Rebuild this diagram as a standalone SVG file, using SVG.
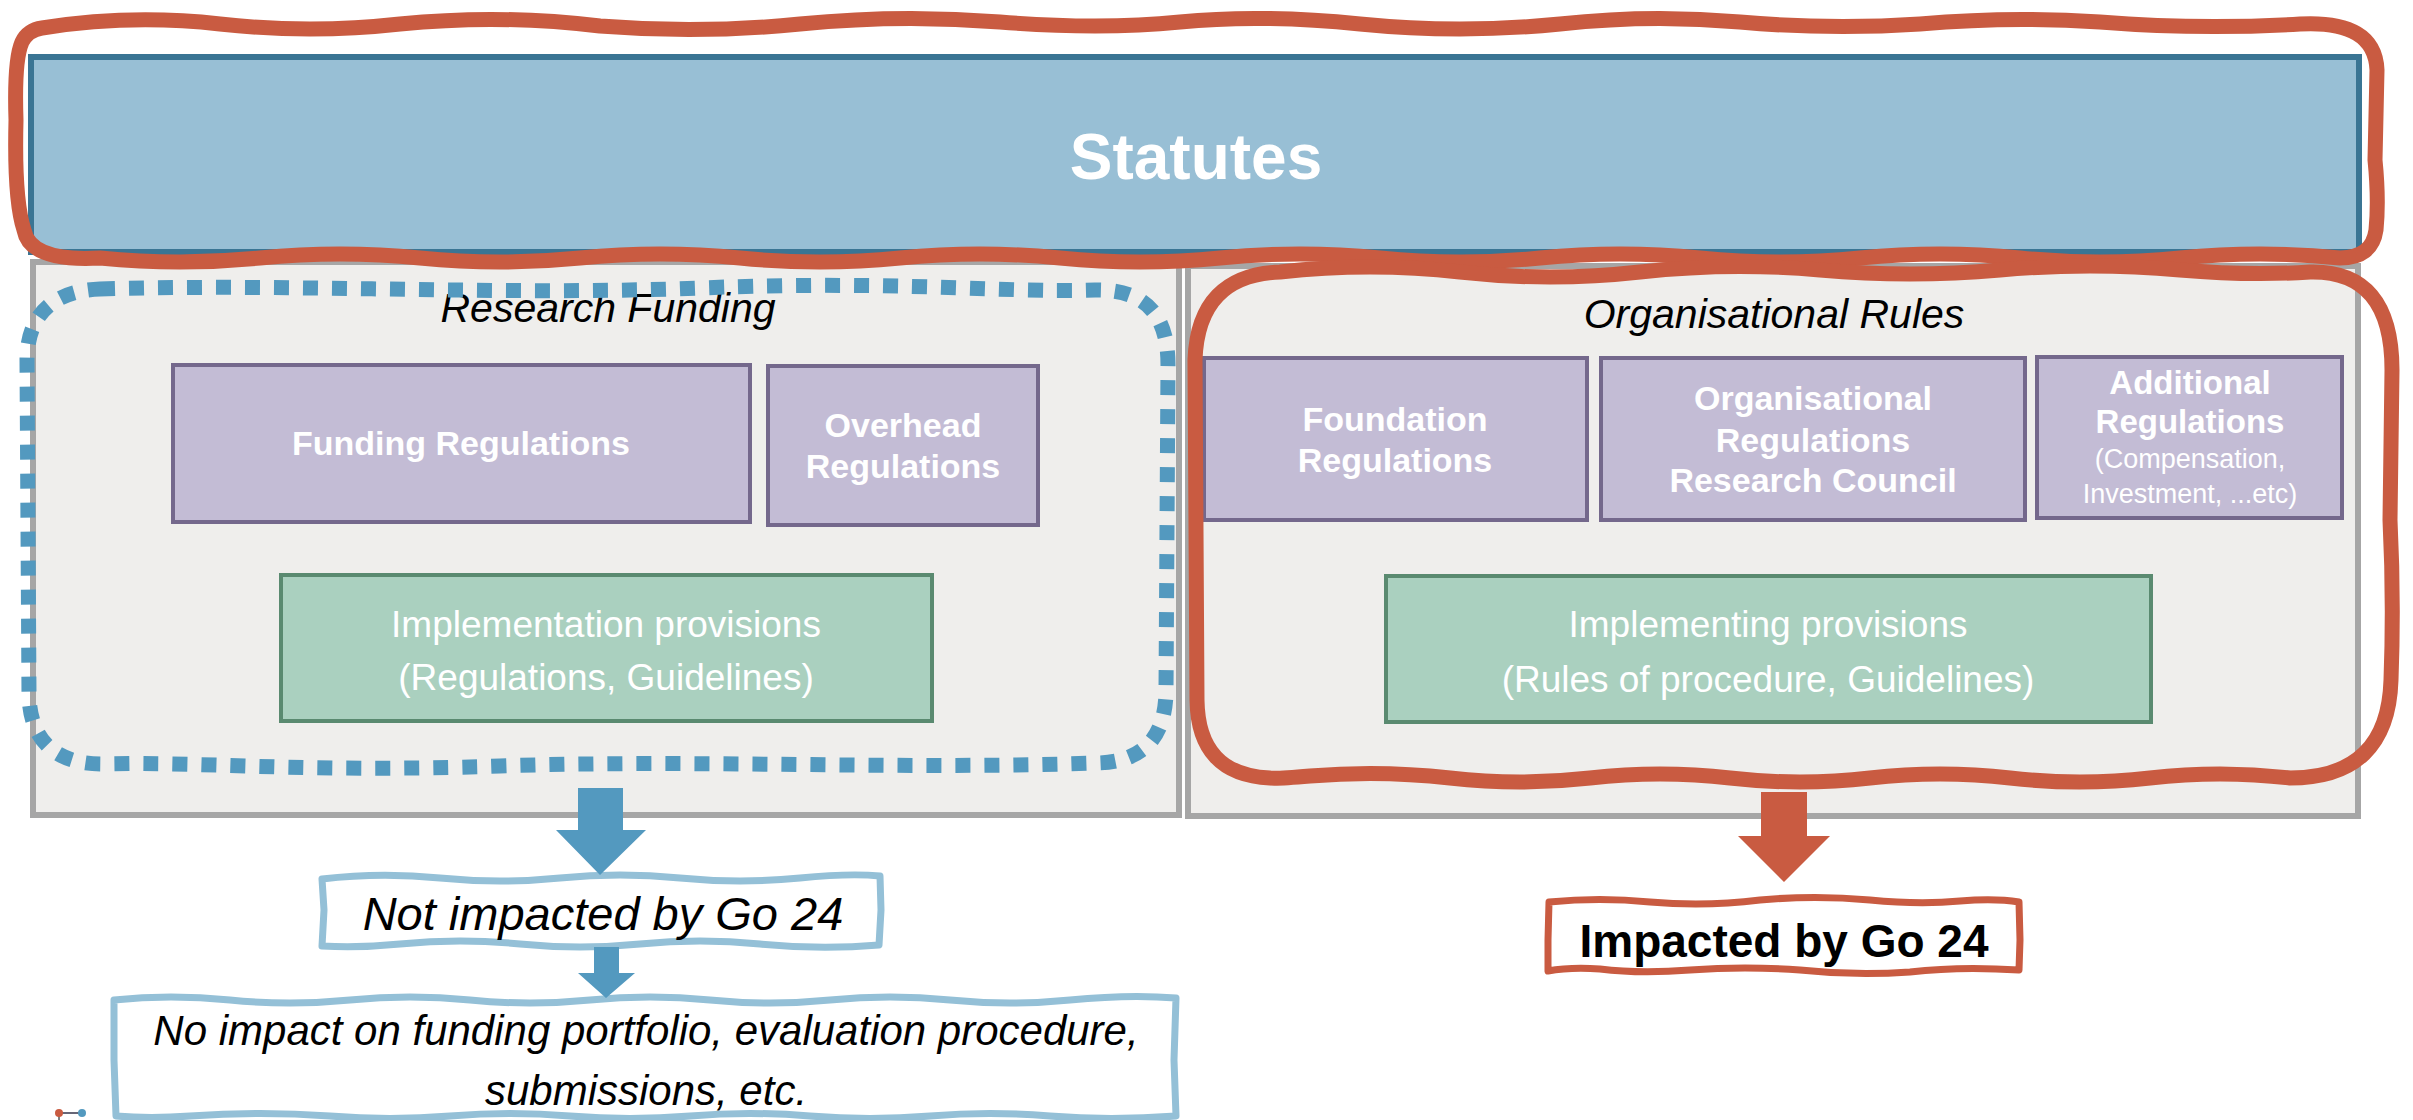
<svg xmlns="http://www.w3.org/2000/svg" width="2413" height="1120" viewBox="0 0 2413 1120">
<style>
.panel{fill:#efeeec;stroke:#a6a6a6;stroke-width:6}
.purple{fill:#c3bcd5;stroke:#74688c;stroke-width:4}
.green{fill:#aad0bf;stroke:#5a8a70;stroke-width:4}
.wb{font-family:"Liberation Sans",Arial,sans-serif;font-weight:bold;fill:#fff;text-anchor:middle}
.wr{font-family:"Liberation Sans",Arial,sans-serif;fill:#fff;text-anchor:middle}
.it{font-family:"Liberation Sans",Arial,sans-serif;font-style:italic;fill:#000;text-anchor:middle}
.redline{fill:none;stroke:#c95b41;stroke-linejoin:round;stroke-linecap:round}
.blueline{fill:#fff;stroke:#94c0d7;stroke-width:7;stroke-linejoin:round}
</style>
<rect width="2413" height="1120" fill="#fff"/>

<g id="panel-research">
<rect class="panel" x="33" y="262" width="1146" height="553"/>
</g>
<g id="panel-org">
<rect class="panel" x="1188" y="266" width="1170" height="550"/>
</g>

<g id="statutes">
<rect x="31" y="57" width="2328" height="195" fill="#98bfd5" stroke="#3a7594" stroke-width="6"/>
<text class="wb" x="1196" y="179" font-size="64">Statutes</text>
</g>

<g id="research-funding">
<text class="it" x="608" y="322" font-size="41">Research Funding</text>
</g>
<g id="funding-regulations">
<rect class="purple" x="173" y="365" width="577" height="157"/>
<text class="wb" x="461" y="455" font-size="34">Funding Regulations</text>
</g>
<g id="overhead-regulations">
<rect class="purple" x="768" y="366" width="270" height="159"/>
<text class="wb" x="903" y="437" font-size="34">Overhead</text>
<text class="wb" x="903" y="478" font-size="34">Regulations</text>
</g>
<g id="implementation-provisions">
<rect class="green" x="281" y="575" width="651" height="146"/>
<text class="wr" x="606" y="637" font-size="37">Implementation provisions</text>
<text class="wr" x="606" y="690" font-size="37">(Regulations, Guidelines)</text>
</g>

<g id="organisational-rules">
<text class="it" x="1774" y="328" font-size="41">Organisational Rules</text>
</g>
<g id="foundation-regulations">
<rect class="purple" x="1204" y="358" width="383" height="162"/>
<text class="wb" x="1395" y="431" font-size="34">Foundation</text>
<text class="wb" x="1395" y="472" font-size="34">Regulations</text>
</g>
<g id="org-regulations">
<rect class="purple" x="1601" y="358" width="424" height="162"/>
<text class="wb" x="1813" y="410" font-size="34">Organisational</text>
<text class="wb" x="1813" y="452" font-size="34">Regulations</text>
<text class="wb" x="1813" y="492" font-size="34">Research Council</text>
</g>
<g id="additional-regulations">
<rect class="purple" x="2037" y="357" width="305" height="161"/>
<text class="wb" x="2190" y="394" font-size="33">Additional</text>
<text class="wb" x="2190" y="433" font-size="33">Regulations</text>
<text class="wr" x="2190" y="468" font-size="27">(Compensation,</text>
<text class="wr" x="2190" y="503" font-size="27">Investment, ...etc)</text>
</g>
<g id="implementing-provisions">
<rect class="green" x="1386" y="576" width="765" height="146"/>
<text class="wr" x="1768" y="637" font-size="37">Implementing provisions</text>
<text class="wr" x="1768" y="692" font-size="37">(Rules of procedure, Guidelines)</text>
</g>

<g id="outline-research-funding">
<path d="M 100,289 C 300,283 500,296 700,288 S 1000,293 1095,290 C 1150,289 1168,320 1168,365 L 1166,690 C 1166,740 1140,763 1095,763 C 900,770 700,759 500,766 S 200,761 105,764 C 55,765 30,740 29,695 L 27,360 C 27,318 50,291 100,289 Z" fill="none" stroke="#5399bf" stroke-width="15" stroke-dasharray="15 14"/>
</g>

<g id="outline-statutes">
<path class="redline" stroke-width="15" d="M 42,28 Q 130,14 220,24 Q 310,34 400,24 Q 500,14 600,26 Q 700,34 800,24 Q 900,14 1000,22 Q 1100,30 1180,22 Q 1260,14 1360,24 Q 1460,34 1560,24 Q 1650,14 1740,22 Q 1830,30 1920,24 Q 2010,16 2100,22 Q 2200,30 2300,24 Q 2375,20 2377,70 L 2375,160 Q 2379,200 2376,230 Q 2372,258 2340,258 Q 2260,250 2180,258 Q 2100,266 2020,258 Q 1940,250 1860,258 Q 1780,266 1700,258 Q 1620,250 1540,258 Q 1460,266 1380,258 Q 1300,250 1220,258 Q 1140,266 1060,258 Q 980,250 900,258 Q 820,266 740,258 Q 660,250 580,258 Q 500,266 420,258 Q 340,250 260,258 Q 180,266 100,258 Q 30,262 24,230 Q 14,200 16,120 Q 14,60 22,42 Q 28,30 42,28 Z"/>
</g>

<g id="outline-org">
<path class="redline" stroke-width="15" d="M 1280,272 Q 1370,262 1460,272 Q 1550,282 1640,272 Q 1730,262 1820,270 Q 1910,278 2000,270 Q 2090,262 2180,270 Q 2250,276 2310,272 Q 2392,270 2392,370 L 2390,520 Q 2394,600 2391,680 Q 2388,778 2290,778 Q 2220,770 2150,778 Q 2080,786 2010,778 Q 1940,770 1870,778 Q 1800,786 1730,778 Q 1660,770 1590,778 Q 1520,786 1450,778 Q 1380,770 1310,776 Q 1275,779 1270,778 Q 1198,775 1197,700 L 1195,360 Q 1198,275 1280,272 Z"/>
</g>

<g id="not-impacted">
<path class="blueline" d="M 322,879 Q 380,872 440,878 Q 500,884 560,878 Q 620,872 680,878 Q 740,884 800,878 Q 850,873 880,876 L 881,910 L 879,945 Q 820,950 760,944 Q 700,938 640,944 Q 580,950 520,944 Q 460,938 400,944 Q 360,948 322,946 L 324,910 Z"/>
<text class="it" x="603" y="930" font-size="47">Not impacted by Go 24</text>
</g>

<g id="no-impact">
<path class="blueline" d="M 114,1000 Q 170,994 230,1000 Q 290,1006 350,1000 Q 410,994 470,1000 Q 530,1006 590,1000 Q 650,994 710,1000 Q 770,1006 830,1000 Q 890,994 950,1000 Q 1010,1006 1070,1000 Q 1130,994 1176,998 L 1174,1060 L 1176,1116 Q 1110,1121 1050,1116 Q 990,1111 930,1116 Q 870,1121 810,1116 Q 750,1111 690,1116 Q 630,1121 570,1116 Q 510,1111 450,1116 Q 390,1121 330,1116 Q 260,1111 190,1116 Q 150,1119 116,1116 L 114,1060 Z"/>
<text class="it" x="646" y="1045" font-size="42">No impact on funding portfolio, evaluation procedure,</text>
<text class="it" x="646" y="1105" font-size="42">submissions, etc.</text>
</g>

<g id="impacted">
<path class="redline" stroke-width="7" fill="#fff" d="M 1549,902 Q 1600,897 1650,902 Q 1705,907 1760,900 Q 1815,895 1870,900 Q 1920,905 1960,901 Q 1995,898 2019,902 L 2020,940 L 2019,970 Q 1960,966 1910,972 Q 1855,976 1800,970 Q 1745,966 1690,970 Q 1640,974 1600,969 Q 1570,967 1548,971 L 1548,940 Z"/>
<text x="1784" y="957" font-family="Liberation Sans, Arial, sans-serif" font-weight="bold" font-size="46" text-anchor="middle" fill="#000">Impacted by Go 24</text>
</g>

<g id="connectors">
<polygon fill="#5399bf" points="578,788 623,788 623,830 646,830 600,875 556,830 578,830"/>
<polygon fill="#5399bf" points="594,947 619,947 619,973 635,973 606,998 578,973 594,973"/>
<polygon fill="#c95b41" points="1761,792 1807,792 1807,836 1830,836 1784,882 1738,836 1761,836"/>
</g>

<g id="icon">
<line x1="59" y1="1113" x2="82" y2="1113" stroke="#667" stroke-width="2"/>
<line x1="59" y1="1113" x2="59" y2="1120" stroke="#000" stroke-width="1"/>
<circle cx="59" cy="1113" r="4" fill="#c95b41"/>
<circle cx="82" cy="1113" r="4" fill="#5399bf"/>
</g>
</svg>
